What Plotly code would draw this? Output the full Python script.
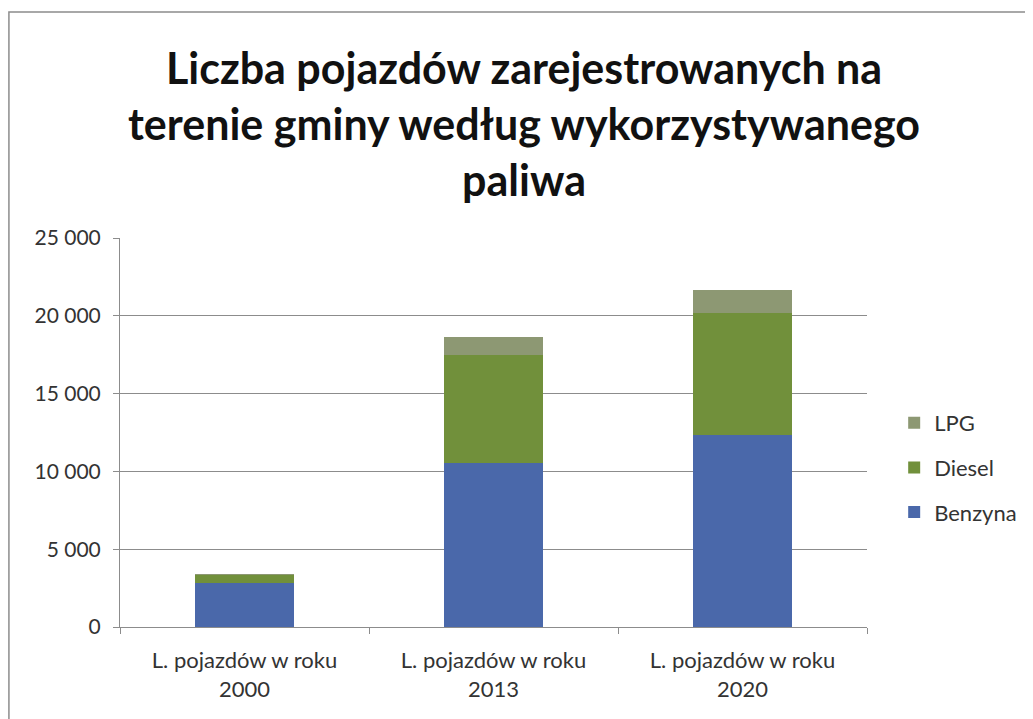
import plotly.graph_objects as go

categories = ["L. pojazdów w roku<br>2000", "L. pojazdów w roku<br>2013", "L. pojazdów w roku<br>2020"]
benzyna = [2800, 10550, 12350]
diesel = [550, 6950, 7850]
lpg = [30, 1150, 1480]
y_ticks = [0, 5000, 10000, 15000, 20000, 25000]
y_tick_labels = ["0", "5 000", "10 000", "15 000", "20 000", "25 000"]
title_text = "<b>Liczba pojazdów zarejestrowanych na<br>terenie gminy według wykorzystywanego<br>paliwa</b>"

font_family = "Lato, Carlito, 'Open Sans', sans-serif"

fig = go.Figure()
series = [("Benzyna", benzyna, "#4a68aa", 3), ("Diesel", diesel, "#71903b", 2), ("LPG", lpg, "#8d9873", 1)]
for name, vals, col, rank in series:
    fig.add_trace(go.Bar(x=categories, y=vals, name=name, marker_color=col,
                         marker_line_width=0, legendgroup=name, legendrank=rank))

fig.update_layout(
    width=1025, height=711,
    barmode="stack", bargap=0.6,
    paper_bgcolor="white", plot_bgcolor="white",
    margin=dict(l=112, r=165, t=230, b=92),
    font=dict(family=font_family, size=20, color="#333333"),
    legend=dict(x=1.035, y=0.41, xanchor="left", yanchor="middle",
                traceorder="grouped", tracegroupgap=13,
                font=dict(size=22, color="#333333"), itemwidth=30),
    showlegend=True,
)
fig.add_annotation(text=title_text, xref="paper", yref="paper",
                   x=(525 - 120) / 748, y=(627 - 40) / 389,
                   xanchor="center", yanchor="top", showarrow=False,
                   font=dict(size=43, color="#111111", family=font_family))
fig.update_yaxes(range=[0, 25000], tickvals=y_ticks, ticktext=y_tick_labels,
                 showgrid=True, gridcolor="#8c8c8c", gridwidth=1,
                 showline=True, linecolor="#8c8c8c", linewidth=1,
                 ticks="outside", ticklen=6, tickcolor="#8c8c8c",
                 ticklabelstandoff=8, zeroline=False,
                 tickfont=dict(size=21))
fig.update_xaxes(showline=True, linecolor="#8c8c8c", linewidth=1,
                 ticks="outside", ticklen=6, tickcolor="#8c8c8c",
                 tickson="boundaries", showgrid=False,
                 ticklabelstandoff=14, tickfont=dict(size=22))
fig.add_shape(type="rect", xref="paper", yref="paper",
              x0=-0.1487, x1=1.6, y0=-0.5, y1=1.581,
              line=dict(color="#8c8c8c", width=1.5), layer="below")

fig.write_html("out.html")
